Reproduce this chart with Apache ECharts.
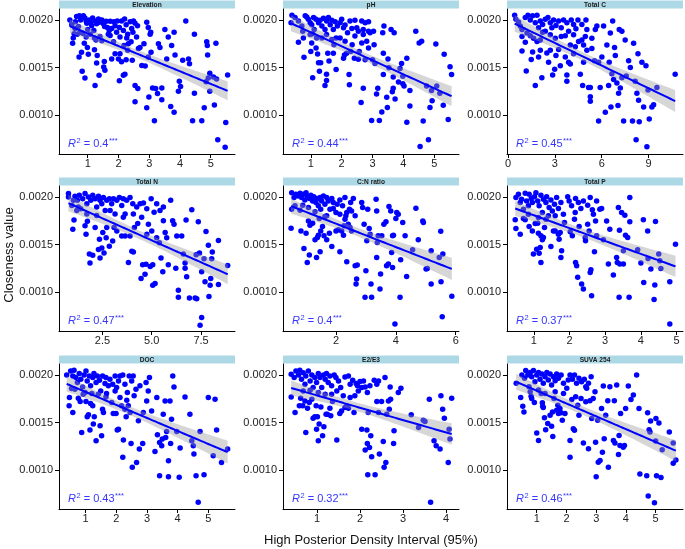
<!DOCTYPE html>
<html><head><meta charset="utf-8">
<script src="https://cdn.jsdelivr.net/npm/echarts@6/dist/echarts.min.js"></script>
<style>html,body{margin:0;padding:0;background:#fff}#c{width:685px;height:549px}</style>
</head><body><div id="c"></div>
<script>
// Panel titles (strip labels)
const panelTitles = ['Elevation','pH','Total C','Total N','C:N ratio','Total P','DOC','E2/E3','SUVA 254'];
// R² labels
const r2Values = ['0.4','0.44','0.45','0.47','0.4','0.37','0.43','0.32','0.46'];
// x tick values and labels per panel
const xTicks = [[1,2,3,4,5],[1,2,3,4,5],[0,3,6,9],[2.5,5,7.5],[2,4,6],[1,2,3,4,5],[1,2,3,4,5],[1,2,3,4],[1,2,3,4,5]];
const xTickLabels = [['1','2','3','4','5'],['1','2','3','4','5'],['0','3','6','9'],['2.5','5.0','7.5'],['2','4','6'],['1','2','3','4','5'],['1','2','3','4','5'],['1','2','3','4'],['1','2','3','4','5']];
const xRanges = [[0.067,5.79],[0.10,5.80],[-0.06,11.2],[0.3,9.22],[0.23,6.11],[0.25,5.18],[0.13,5.87],[0.21,4.30],[0.0,5.92]];
// closeness values are stored in units of 1e-4
const yTicks = [10,15,20];
const yTickLabels = ['0.0010','0.0015','0.0020'];
const yRange = [5.9,21.15];

const elevation = [[0.51,17.56],[0.56,18.54],[0.72,16.1],[0.80,16.6],[0.82,14.6],[0.91,13.9],[1.02,16.4],[0.89,17.56],[1.24,13.1],[1.22,16.86],[1.29,15.47],[1.31,16.27],[1.37,14.18],[1.52,15.05],[1.54,15.64],[1.56,14.7],[1.78,15.9],[1.89,16.45],[2.0,15.9],[2.03,13.6],[2.05,16.45],[2.1,15.6],[2.16,14.18],[2.21,14.3],[2.25,15.8],[2.3,16.8],[2.32,17.5],[2.45,15.75],[2.54,11.4],[2.54,13.1],[2.63,12.8],[2.7,17.1],[2.76,15.2],[2.83,17.5],[2.87,15.15],[2.92,10.77],[2.97,16.1],[2.99,11.9],[3.03,18.5],[3.06,16.6],[3.11,12.85],[3.17,9.4],[3.21,12.8],[3.27,12.26],[3.3,17.5],[3.35,17.1],[3.41,12.85],[3.41,11.6],[3.51,19.0],[3.57,15.9],[3.62,18.2],[3.7,10.9],[3.73,17.3],[3.81,18.7],[3.81,10.3],[3.84,16.3],[3.95,12.5],[3.98,13.55],[4.02,13.0],[4.09,15.75],[4.19,19.9],[4.28,15.9],[4.31,15.4],[4.41,9.4],[4.47,12.3],[4.47,18.5],[4.71,9.4],[4.79,10.77],[4.85,13.5],[4.87,17.7],[4.89,17.3],[4.9,16.3],[4.92,13.9],[4.97,14.4],[4.97,12.5],[5.09,14.0],[5.12,11.05],[5.17,17.56],[5.23,7.4],[5.47,6.6],[5.49,9.2],[5.55,14.2],[5.19,13.8],
[0.48,19.5],[0.59,19.1],[0.64,20.35],[0.73,20.45],[0.77,20.0],[0.86,20.45],[0.91,20.2],[0.97,19.65],[1.05,20.0],[1.13,19.4],[1.16,20.2],[1.24,19.9],[1.29,19.6],[1.38,19.75],[1.46,20.0],[1.51,19.6],[1.6,19.85],[1.64,19.2],[1.73,19.85],[1.78,19.1],[1.89,19.4],[1.96,19.9],[2.03,19.2],[2.1,19.9],[2.16,18.9],[2.25,19.5],[2.3,18.5],[2.38,19.8],[2.43,19.1],[2.49,19.9],[2.54,19.65],[2.59,18.2],[2.62,19.4],[2.92,19.75],[2.97,19.2],[3.05,18.7],[0.53,18.1],[0.75,18.7],[0.84,18.6],[0.95,18.2],[1.08,18.5],[1.22,18.1],[1.27,17.9],[1.4,18.25],[1.46,17.8],[1.67,18.5],[1.73,18.35],[1.84,17.7],[1.94,18.7],[2.05,18.2],[2.18,17.3],[2.27,18.1],[2.41,17.7],[2.47,18.7],[2.65,17.0],[0.99,17.1],[0.6,19.8],[0.7,19.3],[0.95,19.9],[1.1,19.7],[1.35,20.1],[1.55,19.3],[1.85,19.8],[2.2,20.1],[0.42,20.0],[0.66,18.5],[1.0,19.0],[1.2,18.9],[1.7,18.9]];

const pH = [[0.6,17.64],[0.78,16.07],[1.06,13.93],[1.0,16.68],[1.03,17.57],[1.06,18.54],[1.17,17.04],[1.22,16.43],[1.25,15.5],[1.32,15.5],[1.28,14.6],[1.46,13.1],[1.51,13.64],[1.51,14.3],[1.55,16.5],[1.59,15.68],[1.73,16.5],[1.82,14.8],[1.68,17.93],[1.82,18.1],[2.06,15.96],[2.09,16.3],[2.16,16.5],[2.24,14.25],[2.25,13.18],[2.29,16.68],[2.34,17.4],[2.41,15.96],[2.54,15.86],[2.57,16.68],[2.63,11.32],[2.65,17.57],[2.7,12.82],[2.76,15.8],[2.81,17.75],[2.87,17.04],[2.92,18.64],[2.97,9.43],[3.0,15.8],[3.05,17.4],[3.08,15.43],[3.13,12.2],[3.17,12.82],[3.22,9.43],[3.3,10.32],[3.33,18.64],[3.35,16.5],[3.35,14.25],[3.37,19.36],[3.46,11.86],[3.48,10.8],[3.5,15.9],[3.53,14.96],[3.6,19.0],[3.64,12.46],[3.67,12.82],[3.67,14.0],[3.7,18.64],[3.73,11.68],[3.84,13.46],[3.89,14.9],[3.94,15.43],[3.98,13.3],[3.98,14.07],[4.02,13.04],[4.11,15.96],[4.11,9.25],[4.21,10.96],[4.21,12.57],[4.4,18.82],[4.51,17.57],[4.54,6.68],[4.59,17.75],[4.64,9.36],[4.75,13.04],[4.81,7.39],[4.86,10.8],[4.91,12.57],[4.93,11.5],[5.05,17.46],[5.08,13.04],[5.18,12.29],[5.29,11.04],[5.32,16.39],[5.45,9.54],[5.51,15.07],[5.56,14.25],
[0.39,20.5],[0.36,19.7],[0.49,20.25],[0.6,19.9],[0.71,19.36],[0.74,18.82],[0.82,20.43],[0.87,20.32],[0.92,20.07],[0.98,19.7],[1.03,19.5],[1.09,20.25],[1.11,19.0],[1.17,20.07],[1.25,19.7],[1.3,19.96],[1.36,19.36],[1.41,20.18],[1.46,19.0],[1.51,19.9],[1.57,20.25],[1.63,19.5],[1.68,19.96],[1.73,19.0],[1.79,19.8],[1.86,19.36],[1.95,19.7],[2.0,20.07],[2.06,19.18],[2.11,19.46],[2.19,18.64],[2.27,19.9],[2.33,19.1],[2.43,19.96],[2.49,19.18],[2.54,18.82],[2.65,19.9],[2.7,19.0],[2.76,19.7],[2.87,19.8],[3.03,18.82],[0.76,18.1],[0.98,18.46],[1.19,18.1],[1.36,18.1],[1.51,18.46],[1.75,17.4],[1.95,18.1],[2.11,17.75],[2.43,18.3],[2.7,18.46],[2.87,18.82]];

const totalC = [[0.9,16.74],[1.11,17.64],[1.17,14.64],[1.49,15.83],[1.75,13.1],[1.86,17.72],[1.96,16.09],[2.07,16.81],[2.17,13.91],[2.22,18.7],[2.49,16.52],[2.6,15.54],[2.71,16.81],[2.86,14.2],[2.99,14.82],[3.07,16.27],[3.24,16.88],[3.41,18.26],[3.67,16.09],[3.77,14.2],[3.77,13.55],[3.88,15.54],[3.99,17.36],[4.2,16.45],[4.63,14.28],[4.78,13.1],[4.84,17.36],[5.05,16.81],[5.16,12.9],[5.27,12.9],[5.27,11.92],[5.27,11.45],[5.37,16.99],[5.54,15.72],[5.69,19.35],[5.8,9.38],[5.9,12.9],[6.01,16.09],[6.12,19.35],[6.23,10.29],[6.33,17.36],[6.44,13.1],[6.48,15.54],[6.55,18.62],[6.59,10.83],[6.7,19.89],[6.76,13.73],[6.82,17.1],[6.87,16.27],[6.97,13.37],[7.04,11.01],[7.08,12.28],[7.12,18.99],[7.19,12.83],[7.29,18.8],[7.4,9.38],[7.5,17.9],[7.72,15.72],[7.83,15.0],[7.97,9.38],[8.04,17.54],[8.14,13.55],[8.2,7.39],[8.25,12.28],[8.32,16.45],[8.36,11.56],[8.4,9.28],[8.57,15.54],[8.68,10.83],[8.83,15.18],[8.89,6.67],[8.96,12.64],[9.04,9.57],[9.21,10.83],[9.32,11.09],[9.53,12.9],[10.7,14.28],[1.58,16.63],[3.35,15.18],[3.99,15.36],[4.31,17.17],[4.73,17.9],[4.84,15.54],[5.8,15.54],[6.65,14.35],[7.29,13.91],[7.57,14.1],
[0.43,20.5],[0.51,20.07],[0.68,19.78],[0.79,19.35],[0.9,18.99],[1.11,20.25],[1.28,20.5],[1.43,20.0],[1.58,20.43],[1.75,19.71],[1.86,20.5],[1.96,19.17],[2.07,19.89],[2.22,19.53],[2.39,20.07],[2.56,20.25],[2.71,19.71],[2.81,19.17],[2.92,20.0],[3.07,19.42],[3.24,19.89],[3.41,19.17],[3.56,20.0],[3.77,19.71],[3.88,18.8],[4.05,20.0],[4.2,19.53],[4.35,19.06],[4.48,20.0],[4.73,19.53],[4.99,20.0],[5.05,18.99],[0.9,18.26],[1.22,18.62],[1.43,18.33],[1.64,18.08],[2.07,17.9],[2.39,18.8],[2.71,18.44],[3.03,18.08],[3.67,18.33],[4.2,18.44],[4.52,17.72],[4.95,18.26],[5.37,18.08],[5.59,18.99]];

const totalN = [[0.78,20.0],[1.0,16.6],[1.06,17.57],[1.28,18.93],[1.62,16.96],[1.74,17.43],[1.67,16.07],[1.84,14.0],[1.87,13.04],[2.01,13.86],[2.13,16.79],[2.3,14.46],[2.38,13.57],[2.35,15.54],[2.47,14.64],[2.52,16.25],[2.58,14.11],[2.69,15.71],[2.72,16.79],[2.85,14.82],[3.02,15.36],[3.09,16.79],[3.23,16.43],[3.48,15.89],[3.56,17.86],[3.65,15.89],[3.82,13.11],[3.9,15.89],[3.99,14.29],[4.07,14.21],[4.12,16.79],[4.29,17.21],[4.46,11.43],[4.54,12.86],[4.66,11.86],[4.71,12.93],[4.75,16.07],[4.83,17.14],[4.92,12.68],[5.0,16.43],[5.05,12.86],[5.05,10.71],[5.17,10.89],[5.25,15.71],[5.39,15.18],[5.47,13.57],[5.56,12.14],[5.59,17.5],[5.68,16.25],[5.76,15.71],[5.84,12.86],[5.96,19.64],[6.06,17.5],[6.13,17.14],[6.22,12.5],[6.27,15.89],[6.35,10.18],[6.35,9.46],[6.52,15.89],[6.6,14.0],[6.69,13.04],[6.69,12.5],[6.74,17.57],[6.77,11.61],[6.91,9.36],[7.03,18.64],[7.2,9.36],[7.25,13.93],[7.28,9.29],[7.36,17.39],[7.42,14.11],[7.45,6.5],[7.53,7.32],[7.53,12.14],[7.65,13.5],[7.7,11.07],[7.75,16.36],[7.87,14.93],[7.9,9.54],[7.96,10.71],[7.99,11.43],[8.04,13.5],[8.07,14.21],[8.38,15.43],[8.38,10.79],[8.85,12.79],
[0.78,20.36],[0.95,19.1],[1.03,19.64],[1.11,20.07],[1.23,19.64],[1.33,20.18],[1.4,18.75],[1.5,19.82],[1.62,20.36],[1.71,19.29],[1.79,20.0],[1.91,19.64],[2.01,20.18],[2.13,19.82],[2.21,18.93],[2.3,20.07],[2.38,19.64],[2.47,19.29],[2.55,19.93],[2.64,18.57],[2.72,19.64],[2.85,19.82],[2.97,19.29],[3.06,19.82],[3.14,18.21],[3.23,19.64],[3.36,19.93],[3.48,19.1],[3.56,19.82],[3.73,19.64],[3.9,19.93],[4.04,19.29],[4.24,18.93],[4.41,19.29],[4.58,19.36],[4.75,18.75],[4.97,19.82],[5.12,18.39],[5.25,19.29],[5.42,18.57],[5.59,18.93],[1.2,18.57],[1.71,18.21],[2.21,18.04],[2.89,18.57],[3.65,18.21],[4.07,18.21],[4.49,17.86]];

const cnRatio = [[0.5,16.71],[0.52,18.71],[0.63,19.06],[0.8,18.6],[0.83,16.43],[0.93,14.58],[1.0,16.19],[1.04,13.11],[1.08,17.48],[1.11,13.88],[1.13,17.03],[1.22,17.24],[1.3,15.49],[1.35,13.64],[1.38,15.73],[1.41,15.98],[1.44,17.73],[1.47,14.23],[1.49,16.43],[1.55,16.89],[1.6,15.91],[1.63,17.94],[1.69,15.49],[1.78,16.19],[1.86,14.79],[2.0,16.43],[2.08,16.54],[2.13,14.23],[2.19,16.43],[2.25,15.98],[2.27,16.96],[2.3,17.66],[2.36,13.18],[2.41,17.13],[2.47,16.78],[2.52,16.43],[2.64,12.76],[2.67,10.84],[2.69,11.36],[2.71,12.83],[2.86,19.41],[2.89,18.88],[2.94,17.13],[2.97,9.44],[3.0,12.24],[3.03,15.38],[3.06,18.71],[3.11,16.68],[3.14,16.08],[3.17,10.84],[3.19,9.44],[3.34,19.76],[3.36,18.53],[3.36,13.64],[3.38,15.21],[3.41,15.91],[3.47,10.31],[3.49,11.89],[3.53,15.91],[3.6,17.13],[3.67,17.38],[3.69,12.76],[3.75,12.94],[3.77,18.99],[3.83,18.53],[3.86,14.16],[3.89,15.91],[3.89,12.59],[3.92,15.98],[3.97,6.64],[4.0,17.73],[4.03,18.36],[4.08,18.18],[4.14,9.44],[4.16,13.39],[4.23,17.31],[4.31,15.91],[4.36,11.64],[4.56,14.44],[4.67,18.81],[4.75,15.49],[4.9,17.48],[4.92,17.31],[5.01,12.41],[5.05,12.48],[5.18,10.84],[5.18,14.34],[5.45,13.64],[5.5,16.4],[5.51,11.08],[5.55,7.41],[5.57,13.99],[5.87,9.55],
[0.52,20.45],[0.6,19.93],[0.66,20.28],[0.74,20.1],[0.8,20.38],[0.85,19.93],[0.91,20.28],[0.96,19.69],[1.0,20.45],[1.04,20.1],[1.11,19.83],[1.16,20.17],[1.22,19.58],[1.26,20.03],[1.33,19.41],[1.38,19.83],[1.41,19.06],[1.47,19.93],[1.52,19.58],[1.58,20.1],[1.63,19.23],[1.69,19.93],[1.74,19.58],[1.8,18.71],[1.86,19.83],[1.91,19.41],[2.0,18.36],[2.04,19.23],[2.13,19.69],[2.22,19.06],[2.3,19.93],[2.36,18.36],[2.45,18.71],[2.49,19.41],[2.58,19.83],[2.64,18.01],[0.89,19.13],[1.08,18.88],[1.3,18.43],[1.49,18.71],[1.69,18.01],[1.91,18.78],[2.13,18.18],[2.33,18.01],[2.52,18.53]];

const totalP = [[0.48,17.59],[0.5,16.68],[0.62,16.08],[0.71,17.73],[0.76,17.59],[0.87,16.89],[0.96,16.43],[0.99,13.99],[1.04,17.2],[1.08,14.51],[1.11,17.24],[1.13,16.19],[1.15,14.09],[1.18,14.69],[1.2,15.91],[1.24,15.49],[1.2,13.11],[1.27,15.73],[1.3,16.78],[1.34,17.66],[1.48,14.79],[1.55,16.43],[1.6,16.43],[1.69,16.08],[1.71,15.56],[1.74,16.26],[1.76,13.64],[1.78,14.34],[1.86,17.31],[2.02,16.33],[2.08,15.91],[2.14,17.66],[2.16,18.36],[2.17,13.11],[2.2,12.76],[2.23,11.54],[2.27,16.89],[2.34,10.84],[2.39,10.31],[2.44,15.73],[2.45,15.38],[2.51,17.13],[2.55,16.43],[2.58,12.06],[2.6,12.34],[2.62,9.62],[2.67,18.18],[2.7,14.23],[2.73,17.48],[2.76,15.91],[2.9,18.78],[2.95,15.49],[3.04,17.48],[3.09,12.94],[3.13,16.61],[3.23,11.78],[3.32,13.64],[3.34,13.11],[3.37,18.88],[3.39,9.44],[3.4,16.5],[3.41,12.94],[3.46,18.36],[3.51,14.34],[3.51,12.94],[3.55,18.08],[3.57,15.98],[3.63,15.73],[3.67,9.44],[3.69,17.38],[3.69,19.93],[3.91,14.44],[4.0,13.04],[4.07,17.59],[4.08,11.01],[4.19,16.43],[4.2,13.53],[4.28,12.41],[4.37,9.2],[4.39,10.73],[4.41,17.41],[4.5,13.99],[4.56,12.48],[4.53,13.29],[4.81,11.08],[4.81,6.64],[4.97,15.03],
[0.5,19.93],[0.57,20.28],[0.62,19.41],[0.66,19.76],[0.71,18.71],[0.76,20.38],[0.8,19.58],[0.85,19.06],[0.87,20.28],[0.93,19.83],[0.96,19.41],[1.02,20.03],[1.06,20.45],[1.11,19.58],[1.15,19.06],[1.2,20.17],[1.24,18.36],[1.27,19.76],[1.34,19.41],[1.36,20.03],[1.43,18.88],[1.48,19.69],[1.52,18.53],[1.58,19.23],[1.64,19.93],[1.69,18.78],[1.76,19.41],[1.83,18.18],[1.95,20.03],[1.99,19.58],[2.06,19.06],[2.17,19.83],[2.25,19.41],[2.32,18.78],[2.39,19.58],[2.51,19.13],[2.58,19.93],[2.64,18.64],[2.76,19.58],[2.85,18.71],[0.85,18.18],[1.13,17.83],[1.41,18.01],[1.6,18.01]];

const doc = [[0.46,16.75],[0.47,17.62],[0.54,18.57],[0.58,16.05],[0.76,17.55],[0.82,17.2],[0.87,13.95],[0.98,18.15],[1.01,17.2],[1.05,15.59],[1.09,15.8],[1.14,14.2],[1.16,16.99],[1.23,16.75],[1.25,14.83],[1.28,15.59],[1.34,13.08],[1.47,14.65],[1.52,13.6],[1.55,16.4],[1.58,16.05],[1.66,17.69],[1.85,17.1],[1.9,15.94],[1.99,15.94],[2.03,14.2],[2.07,14.3],[2.12,17.62],[2.17,16.75],[2.21,11.33],[2.23,13.15],[2.28,16.4],[2.32,15.59],[2.34,17.34],[2.39,16.75],[2.45,16.05],[2.48,12.8],[2.52,10.28],[2.58,17.8],[2.66,10.8],[2.72,15.17],[2.75,12.2],[2.86,12.8],[2.88,16.05],[2.99,17.27],[3.04,18.32],[3.15,16.22],[3.26,11.96],[3.32,17.62],[3.34,13.71],[3.41,12.9],[3.41,9.41],[3.48,12.55],[3.5,13.25],[3.53,15.87],[3.59,17.27],[3.61,13.43],[3.64,14.06],[3.7,10.98],[3.7,9.3],[3.75,17.27],[3.77,12.8],[3.8,15.35],[3.84,19.9],[3.88,18.74],[3.97,14.06],[4.08,12.31],[4.05,9.23],[4.24,17.69],[4.4,15.87],[4.46,13.08],[4.51,12.55],[4.53,11.68],[4.6,9.41],[4.67,6.61],[4.73,14.06],[4.86,9.51],[5.0,17.62],[5.16,11.5],[5.22,17.45],[5.27,14.2],[5.43,10.8],[5.63,12.2],
[0.38,20.0],[0.51,20.42],[0.58,19.9],[0.62,20.49],[0.68,19.72],[0.73,19.2],[0.79,20.14],[0.84,19.55],[0.9,18.74],[0.95,20.0],[1.01,20.42],[1.05,19.37],[1.12,19.9],[1.16,18.85],[1.23,19.72],[1.27,20.14],[1.34,19.2],[1.38,19.9],[1.45,19.44],[1.49,18.32],[1.55,19.9],[1.63,19.09],[1.66,19.72],[1.74,18.85],[1.79,19.55],[1.88,19.02],[1.96,19.9],[2.01,18.67],[2.07,19.37],[2.12,19.9],[2.21,20.0],[2.28,19.02],[2.36,18.15],[2.42,19.9],[2.5,19.37],[2.55,19.9],[2.64,18.5],[2.77,18.85],[2.97,19.2],[3.08,19.72],[0.65,18.5],[0.92,17.97],[1.2,18.04],[1.41,17.97],[1.68,18.04],[1.96,18.32]];

const e2e3 = [[0.4,17.69],[0.49,16.05],[0.59,16.75],[0.62,17.55],[0.67,16.75],[0.72,17.27],[0.74,13.95],[0.78,16.5],[0.82,17.1],[0.88,17.45],[0.91,15.45],[0.95,15.59],[0.98,16.75],[0.99,14.3],[1.01,15.59],[1.03,13.08],[1.05,14.83],[1.09,16.64],[1.13,13.6],[1.16,14.55],[1.21,15.87],[1.24,15.87],[1.3,16.5],[1.32,15.7],[1.34,17.97],[1.36,17.2],[1.46,13.15],[1.53,15.94],[1.57,16.22],[1.61,17.8],[1.65,16.57],[1.69,16.75],[1.73,16.5],[1.77,17.62],[1.86,16.05],[1.88,17.8],[1.96,18.32],[2.04,14.3],[2.12,12.1],[2.16,14.2],[2.17,12.8],[2.18,9.51],[2.19,16.05],[2.22,12.38],[2.25,13.6],[2.27,11.4],[2.35,9.51],[2.39,17.2],[2.43,16.05],[2.45,11.68],[2.5,17.2],[2.54,13.0],[2.56,10.28],[2.58,19.72],[2.6,10.8],[2.62,15.87],[2.66,17.27],[2.68,16.4],[2.7,18.74],[2.71,17.45],[2.78,12.8],[2.79,14.13],[2.89,18.15],[2.95,18.6],[3.19,15.8],[3.36,14.48],[3.47,15.24],[3.51,15.1],[3.61,17.45],[3.64,6.61],[3.72,13.08],[3.77,12.55],[3.86,12.2],[3.88,17.8],[3.92,16.4],[3.96,15.45],[4.05,10.8],[4.07,14.3],[4.09,13.25],[4.13,17.55],
[0.4,20.07],[0.47,19.72],[0.51,20.42],[0.57,20.0],[0.6,20.49],[0.64,19.55],[0.68,20.24],[0.72,19.02],[0.74,19.9],[0.8,20.42],[0.84,19.37],[0.88,20.0],[0.91,18.67],[0.95,19.72],[0.99,19.2],[1.03,20.14],[1.07,19.72],[1.11,18.67],[1.15,20.0],[1.19,19.55],[1.22,20.14],[1.26,19.2],[1.3,19.9],[1.34,18.85],[1.4,20.0],[1.44,19.72],[1.5,19.37],[1.55,18.67],[1.65,19.79],[1.73,19.9],[1.77,19.02],[1.83,19.44],[1.91,19.09],[1.94,18.85],[2.0,19.3],[2.04,18.67],[2.08,19.37],[2.12,18.74],[2.17,18.15],[2.23,18.85],[2.33,19.44],[2.39,19.02],[2.43,19.37],[0.68,18.32],[0.84,18.39],[1.03,18.15],[1.19,17.97],[1.46,18.32]];

const suva254 = [[0.31,19.12],[0.46,17.63],[0.53,16.71],[0.57,16.11],[0.81,17.77],[0.83,17.53],[0.92,17.1],[1.0,13.89],[1.06,13.11],[1.15,18.06],[1.19,17.07],[1.2,16.71],[1.22,16.57],[1.26,15.51],[1.3,14.24],[1.37,14.88],[1.45,15.76],[1.5,14.59],[1.53,16.11],[1.54,13.53],[1.58,17.53],[1.67,16.29],[1.71,16.82],[1.73,15.94],[1.78,16.47],[1.82,16.01],[1.86,15.23],[1.9,18.06],[1.95,15.94],[2.12,13.11],[2.12,11.34],[2.18,17.42],[2.23,14.35],[2.27,14.17],[2.31,17.7],[2.38,16.82],[2.42,15.76],[2.49,17.53],[2.57,12.83],[2.65,17.17],[2.68,18.59],[2.74,12.23],[2.79,17.28],[2.85,15.41],[2.9,17.53],[2.96,18.23],[2.98,12.93],[3.0,9.29],[3.05,15.23],[3.07,10.81],[3.13,10.99],[3.18,16.47],[3.21,11.87],[3.24,18.83],[3.27,13.29],[3.32,15.76],[3.39,17.28],[3.41,10.28],[3.46,18.76],[3.58,13.11],[3.61,17.28],[3.63,12.83],[3.69,18.94],[3.75,11.63],[3.77,13.64],[3.8,12.58],[3.82,15.94],[3.91,12.4],[3.95,12.58],[3.99,16.47],[4.08,18.83],[4.17,17.42],[4.25,17.88],[4.36,20.0],[4.44,16.47],[4.47,9.58],[4.7,9.4],[4.73,16.01],[4.75,7.28],[4.78,14.24],[4.81,13.99],[4.83,15.16],[4.96,6.57],[5.0,13.04],[5.01,15.41],[5.03,9.4],[5.11,14.95],[5.18,9.22],[5.22,12.12],[5.46,13.99],[5.59,12.83],[5.59,10.71],[5.68,11.06],
[0.5,20.0],[0.59,19.65],[0.63,20.46],[0.7,20.0],[0.74,18.76],[0.78,20.25],[0.83,19.82],[0.89,20.46],[0.94,19.29],[1.0,20.0],[1.06,20.25],[1.11,19.54],[1.17,20.11],[1.22,19.12],[1.28,19.82],[1.34,20.25],[1.39,19.47],[1.45,20.11],[1.5,18.94],[1.56,19.82],[1.62,19.4],[1.67,20.11],[1.73,19.65],[1.82,20.0],[1.9,19.12],[2.06,19.47],[2.12,20.0],[2.2,19.54],[2.27,20.0],[2.34,19.12],[2.42,19.65],[2.51,19.29],[2.6,19.54],[2.65,18.76],[2.74,19.12],[2.83,19.82],[0.78,18.23],[1.06,18.41],[1.28,18.06],[1.62,18.23],[2.01,18.59]];

const panelData = [elevation, pH, totalC, totalN, cnRatio, totalP, doc, e2e3, suva254];

// Linear regression with 95% confidence band (like geom_smooth(method = "lm"))
function lmFit(pts) {
  const n = pts.length;
  let sx = 0, sy = 0;
  pts.forEach(p => { sx += p[0]; sy += p[1]; });
  const mx = sx / n, my = sy / n;
  let sxx = 0, sxy = 0;
  pts.forEach(p => { sxx += (p[0] - mx) ** 2; sxy += (p[0] - mx) * (p[1] - my); });
  const b = sxy / sxx, a = my - b * mx;
  let sse = 0;
  pts.forEach(p => { sse += (p[1] - a - b * p[0]) ** 2; });
  const s = Math.sqrt(sse / (n - 2));
  const t = 1.977;
  const xs = pts.map(p => p[0]);
  const x0 = Math.min(...xs), x1 = Math.max(...xs);
  const band = [], line = [];
  const steps = 60;
  for (let k = 0; k <= steps; k++) {
    const x = x0 + (x1 - x0) * k / steps;
    const y = a + b * x;
    const se = s * Math.sqrt(1 / n + (x - mx) ** 2 / sxx);
    band.push([x, y - t * se, y + t * se]);
    line.push([x, y]);
  }
  return { band, line };
}

const FONT = "'Liberation Sans', Arial, Helvetica, sans-serif";
const colLeft = [59, 283, 507], rowTop = [9, 186, 364], W = 176, H = 145;
const grids = [], xAxes = [], yAxes = [], series = [], graphics = [];
const LBL = '#3535ff';

panelData.forEach((pts, i) => {
  const L = colLeft[i % 3], T = rowTop[Math.floor(i / 3)];
  grids.push({ left: L, top: T, width: W, height: H, containLabel: false, outerBoundsMode: 'none' });
  const ticks = xTicks[i], labs = xTickLabels[i];
  xAxes.push({
    type: 'value', gridIndex: i, min: xRanges[i][0], max: xRanges[i][1],
    axisLine: { show: true, onZero: false, lineStyle: { color: '#000', width: 1 } },
    axisTick: { show: true, length: 4, customValues: ticks, lineStyle: { color: '#000' } },
    axisLabel: {
      customValues: ticks, margin: 4, fontSize: 11, color: '#222', fontFamily: FONT,
      formatter: v => { let best = 0; ticks.forEach((t, k) => { if (Math.abs(t - v) < Math.abs(ticks[best] - v)) best = k; }); return labs[best]; }
    },
    splitLine: { show: false }
  });
  yAxes.push({
    type: 'value', gridIndex: i, min: yRange[0], max: yRange[1],
    axisLine: { show: true, onZero: false, lineStyle: { color: '#000', width: 1 } },
    axisTick: { show: true, length: 4, customValues: yTicks, lineStyle: { color: '#000' } },
    axisLabel: {
      customValues: yTicks, margin: 6, fontSize: 11, color: '#222', fontFamily: FONT,
      formatter: v => { let best = 0; yTicks.forEach((t, k) => { if (Math.abs(t - v) < Math.abs(yTicks[best] - v)) best = k; }); return yTickLabels[best]; }
    },
    splitLine: { show: false }
  });
  const fit = lmFit(pts);
  series.push({
    type: 'scatter', xAxisIndex: i, yAxisIndex: i, data: pts, symbol: 'circle', symbolSize: 5.5,
    itemStyle: { color: '#0000ff', opacity: 1 }, z: 2, silent: true
  });
  series.push({
    type: 'custom', xAxisIndex: i, yAxisIndex: i, data: fit.band.map(b => [b[0], b[1]]), z: 3, silent: true,
    renderItem: (params, api) => {
      if (params.dataIndex !== 0) return null;
      const up = fit.band.map(b => api.coord([b[0], b[2]]));
      const lo = fit.band.map(b => api.coord([b[0], b[1]])).reverse();
      return { type: 'polygon', shape: { points: up.concat(lo) }, style: { fill: 'rgba(153,153,153,0.4)' } };
    }
  });
  series.push({
    type: 'line', xAxisIndex: i, yAxisIndex: i, data: fit.line, showSymbol: false, symbol: 'none',
    lineStyle: { color: '#0000ff', width: 2 }, z: 4, silent: true
  });
  // strip
  graphics.push({ type: 'rect', shape: { x: L, y: T - 8.5, width: W, height: 8 }, style: { fill: '#add8e6' }, silent: true });
  graphics.push({ type: 'text', x: L + W / 2, y: T - 4.3, style: { text: panelTitles[i], font: "bold 6.6px " + FONT, fill: '#1a1a1a', align: 'center', verticalAlign: 'middle' }, silent: true });
  // R² label
  graphics.push({ type: 'text', x: L + 9, y: T + H - 11, z: 10, style: {
    text: '{i|R}{s|2}{n| = ' + r2Values[i] + '}{s|***}', verticalAlign: 'middle',
    rich: {
      i: { fontStyle: 'italic', fontSize: 11, lineHeight: 13, fontFamily: FONT, fill: LBL, verticalAlign: 'bottom' },
      s: { fontSize: 7.5, lineHeight: 13, fontFamily: FONT, fill: LBL, verticalAlign: 'top', padding: [0, 0, 0, 0.5] },
      n: { fontSize: 11, lineHeight: 13, fontFamily: FONT, fill: LBL, verticalAlign: 'bottom' }
    }
  }, silent: true });
});

graphics.push({ type: 'text', x: 371, y: 540, style: { text: 'High Posterior Density Interval (95%)', font: '13px ' + FONT, fill: '#111', align: 'center', verticalAlign: 'middle' }, silent: true });
graphics.push({ type: 'text', x: 9, y: 255, rotation: Math.PI / 2, style: { text: 'Closeness value', font: '13px ' + FONT, fill: '#111', align: 'center', verticalAlign: 'middle' }, silent: true });

const chart = echarts.init(document.getElementById('c'), null, { renderer: 'canvas' });
chart.setOption({
  animation: false, backgroundColor: '#fff',
  grid: grids, xAxis: xAxes, yAxis: yAxes, series: series, graphic: graphics
});
</script></body></html>
